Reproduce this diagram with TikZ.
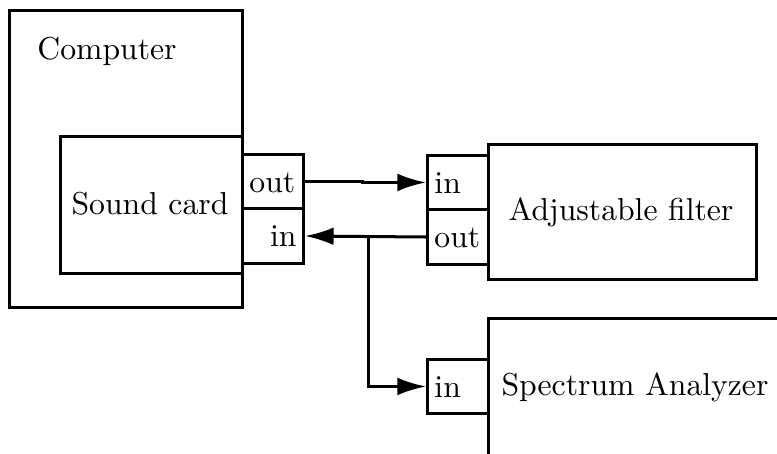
\documentclass[tikz,border=0pt]{standalone}
\usetikzlibrary{arrows.meta}
\begin{document}
\begin{tikzpicture}[x=0.3155pt,y=-0.3155pt,
  box/.style={draw,line width=0.95pt,anchor=north west,inner sep=0pt},
  port/.style={draw,line width=0.95pt,anchor=north west,inner xsep=2.2pt,inner ysep=0pt,
     text width=14.85pt,minimum width=19.25pt,text height=1.6ex,text depth=0pt},
  conn/.style={line width=0.95pt,-{Latex[length=9pt,width=5.6pt]}},
  wire/.style={line width=0.95pt}]
\useasboundingbox (0,0) rectangle (777,453);
\clip (0,0) rectangle (777,453);
% Computer
\node[box,minimum width=73.5pt,minimum height=93.7pt] (computer) at (8,9) {};
\node (comptxt) at (107,51) {Computer};
% Sound card
\node[box,minimum width=57.4pt,minimum height=43.2pt] (sc) at (59,135) {};
\node (sctxt) at (150,204) {Sound card};
\node[port,align=left,minimum height=17.0pt] (scout) at (241,153) {out};
\node[port,align=right,minimum height=17.35pt] (scin) at (241,207) {in};
% Adjustable filter
\node[port,align=left,minimum height=17.0pt] (fin) at (426,154) {in};
\node[port,align=left,minimum height=17.35pt] (fout) at (426,208) {out};
\node[box,minimum width=84.55pt,minimum height=42.6pt] (filter) at (487,143) {};
\node (ftxt) at (621,212) {Adjustable filter};
% Spectrum analyzer
\node[port,align=left,minimum height=17.0pt] (sin) at (426,358) {in};
\node[box,minimum width=110pt,minimum height=60pt] (spec) at (487,317) {};
\node (stxt) at (635,387) {Spectrum Analyzer};
% connectors
\coordinate (jog) at (362,0);
\draw[conn] (scout.east) -- (scout.east -| jog) |- (fin.west);
\draw[conn] (fout.west) -- (scin.east);
\coordinate (br) at (368,235);
\draw[wire] (br |- fout.west) coordinate (brtop);
\draw[conn] (brtop) |- (sin.west);
\end{tikzpicture}
\end{document}
